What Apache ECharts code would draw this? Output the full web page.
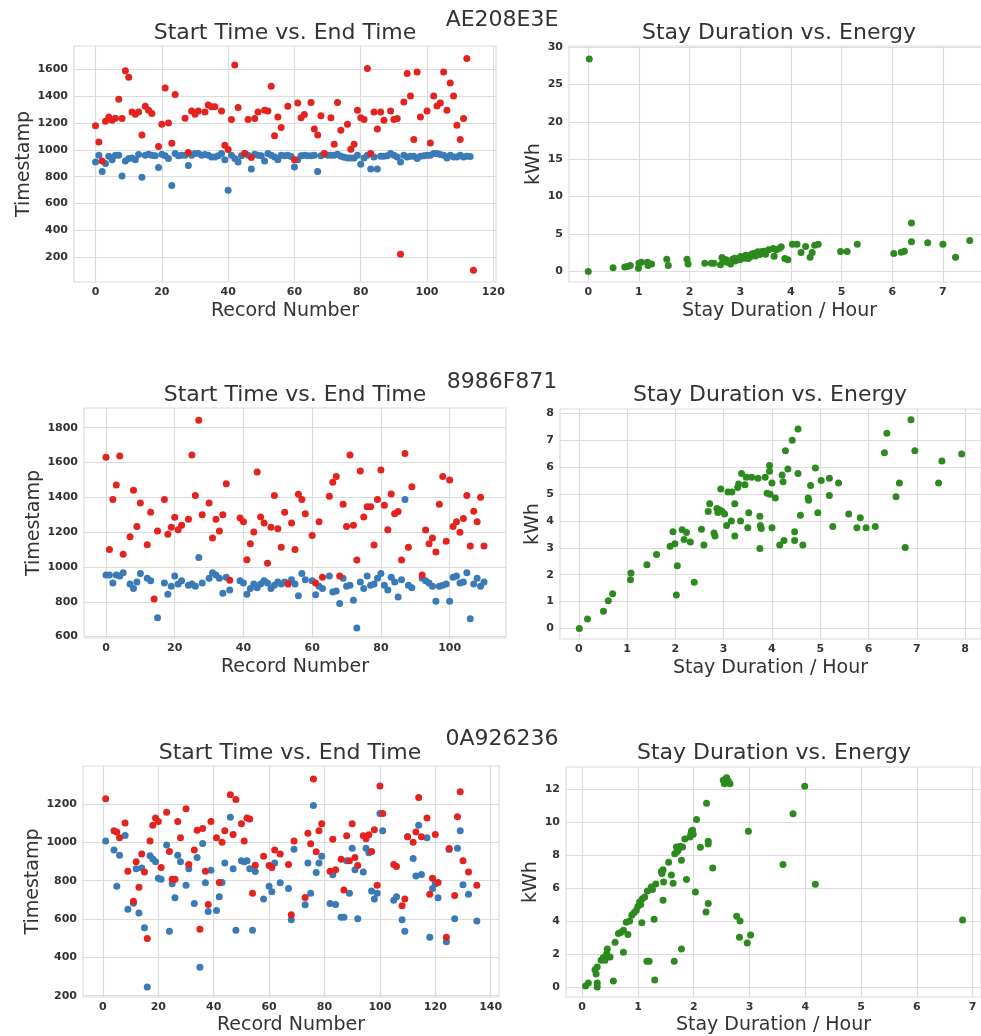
<!DOCTYPE html>
<html>
<head>
<meta charset="utf-8">
<script src="https://cdn.jsdelivr.net/npm/echarts@6/dist/echarts.min.js"></script>
<style>
  html, body { margin: 0; padding: 0; background: #ffffff; }
  #chart { width: 981px; height: 1036px; }
</style>
</head>
<body>
<div id="chart"></div>
<script>
// ---- Station names ----
const stations = ['AE208E3E', '8986F871', '0A926236'];

// ---- Station AE208E3E: start / end timestamps per record ----
const records1 = [];
for (let r = 0; r <= 114; r++) records1.push(r);
const start1 = [910,960,838,898,952,927,960,960,806,917,935,940,927,965,796,960,967,960,955,868,
  967,955,935,734,972,955,960,960,883,960,972,972,960,965,960,947,947,955,972,927,
  699,960,935,910,955,972,960,858,967,960,955,917,972,960,947,927,960,955,960,950,
  873,927,955,960,955,955,960,838,955,967,960,960,960,967,952,945,940,940,940,960,
  893,940,960,858,947,858,952,952,955,972,960,947,910,960,947,952,952,935,952,955,
  960,960,972,972,965,960,940,960,947,947,960,947,952,950,null];
const end1 = [1180,1059,917,1213,1245,1220,1236,1377,1233,1588,1540,1282,1265,1282,1111,1324,1295,1270,null,1024,
  1190,1461,1200,1049,1411,null,null,1235,980,1290,1265,1290,null,1282,1334,1320,1320,null,1290,1034,
  1002,1225,1632,1315,null,972,1225,942,1233,1282,null,1295,1290,1473,1104,1245,1166,null,1324,null,
  927,1349,1238,1263,null,1352,1156,1111,1253,972,null,1238,1042,1352,1146,null,1190,1004,1042,1295,
  1238,1225,1605,972,1282,1156,1282,1220,null,1290,1225,1233,222,1357,1568,1401,1076,1580,1245,null,
  1290,1051,1401,1327,1349,1580,1295,1498,1401,1183,1076,1233,1680,null,103];

// ---- Station 8986F871 ----
const records2 = [];
for (let r = 0; r <= 110; r++) records2.push(r);
const start2 = [954,954,908,954,948,967,null,902,876,914,962,null,935,921,null,709,null,908,843,889,
  948,902,921,null,895,902,889,1055,908,null,935,967,954,935,849,941,868,null,null,921,
  908,843,876,902,881,902,921,908,876,895,914,902,914,908,927,902,835,962,927,null,
  921,841,889,876,null,948,856,862,790,935,889,895,809,650,914,876,948,895,902,935,
  962,895,868,941,914,828,927,1387,895,881,null,null,935,921,908,889,803,889,895,902,
  803,941,948,908,914,967,703,902,935,889,914];
const end2 = [1630,1100,1387,1471,1637,1073,null,1174,1440,1233,1367,null,1128,1314,816,1207,null,1387,1188,1228,
  1285,1214,1239,null,1274,1643,1411,1842,1300,null,1367,1166,1274,1207,1300,1478,923,null,null,1281,
  1260,1042,1134,1201,1545,1287,1253,1021,1228,1411,1220,1113,1314,902,1253,1100,1417,1387,1306,null,
  1180,908,1260,941,null,1406,1486,1519,948,1360,1233,1643,1239,1040,1551,1287,1346,1346,1126,1387,
  1557,1354,1214,1419,1306,1318,1040,1651,1113,1460,null,null,954,1212,1134,1166,1086,1360,1519,1147,
  1500,1233,1260,1199,1279,1411,1120,1320,1260,1400,1120];

// ---- Station 0A926236 ----
const records3 = [1,4,5,6,8,9,11,12,13,14,15,16,17,18,19,20,21,23,24,25,
  26,27,28,30,31,33,34,35,36,37,38,39,41,42,43,44,46,47,48,50,
  51,52,53,54,55,58,60,61,62,64,67,68,69,73,74,75,76,77,78,79,
  82,83,84,86,87,88,89,90,91,92,94,95,96,97,98,99,100,101,105,106,
  108,109,110,112,113,114,115,117,118,119,120,121,124,125,127,128,129,130,132,135];
const start3 = [1007,960,771,933,1036,651,683,862,632,867,554,245,930,914,899,813,808,987,536,784,
  711,933,899,777,862,681,921,348,994,789,639,855,644,717,791,892,1132,862,542,904,
  899,904,862,542,848,705,771,742,892,789,759,596,965,674,892,735,1193,843,892,928,
  681,831,676,609,609,904,735,970,857,602,845,970,946,747,705,735,1151,1061,698,717,
  596,536,1029,916,825,1090,832,1024,505,759,784,711,481,963,602,970,1061,779,730,590];
const end3 = [1228,1061,1055,1024,1102,850,693,899,766,940,845,498,1008,1090,1127,1109,869,1158,953,808,
  808,1109,1024,1176,885,960,1064,547,1073,850,676,1109,1024,791,1001,1061,1249,1041,1224,1097,
  1007,1127,1122,735,881,928,879,869,960,940,885,622,1007,712,1048,993,1331,951,1061,1097,
  850,1017,857,912,752,1035,904,1097,921,879,1035,1019,1040,953,1066,777,1294,1151,885,874,
  669,705,1029,1001,1055,1235,1029,1127,730,813,1041,791,505,968,723,1134,1264,904,845,777];

// ---- Stay duration (hours) vs. energy (kWh) ----
const duration1 = [0.02,0,0.49,0.72,0.77,0.83,0.99,1.0,1.05,1.17,1.18,1.25,1.55,1.58,1.95,1.97,2.3,2.43,2.48,2.61,
  2.64,2.66,2.72,2.76,2.81,2.85,2.89,2.95,2.99,3.01,3.04,3.11,3.16,3.19,3.24,3.29,3.35,3.39,3.43,3.47,
  3.56,3.65,3.67,3.71,3.77,3.81,3.88,3.94,4.03,4.12,4.2,4.29,4.38,4.42,4.47,4.54,4.98,5.11,5.31,6.03,
  6.18,6.24,6.38,6.38,6.7,7.0,7.25,7.53,2.7,2.78,2.9,3.08,3.2,3.3,3.5,2.68,2.92];
const energy1 = [28.4,0,0.49,0.58,0.67,0.8,0.44,1.1,1.24,1.24,0.8,0.98,1.64,0.8,1.64,0.98,1.1,1.1,1.1,0.89,
  1.87,1.42,1.56,1.24,0.98,1.64,1.78,1.69,1.56,2.0,1.87,2.18,1.73,2.18,2.36,2.44,2.62,2.27,2.67,2.71,
  2.89,3.07,2.04,2.89,3.07,3.29,1.73,1.56,3.64,3.64,2.53,3.33,1.91,2.53,3.51,3.64,2.67,2.67,3.64,2.4,
  2.58,2.71,6.49,3.96,3.82,3.64,1.91,4.13,1.3,1.15,1.4,1.75,1.95,2.05,2.3,1.6,1.5];

const duration2 = [0.01,0.18,0.51,0.61,0.70,1.08,1.07,1.41,1.61,1.89,1.95,1.99,2.02,2.04,2.14,2.18,2.23,2.31,2.39,2.54,
  2.59,2.71,2.68,2.80,2.82,2.86,2.88,2.92,2.94,2.97,3.02,3.06,3.09,3.17,3.16,3.23,3.23,3.29,3.31,3.35,
  3.37,3.44,3.47,3.5,3.52,3.58,3.71,3.75,3.75,3.76,3.78,3.86,3.90,3.95,3.95,3.96,4.0,4.0,4.07,4.16,
  4.21,4.23,4.25,4.28,4.33,4.42,4.47,4.47,4.54,4.54,4.59,4.64,4.75,4.76,4.8,4.9,4.95,5.02,5.19,5.19,
  5.26,5.38,5.59,5.76,5.83,5.95,6.14,6.33,6.38,6.57,6.64,6.76,6.88,6.96,7.45,7.52,7.93];
const energy2 = [0,0.35,0.64,1.03,1.29,2.06,1.81,2.37,2.75,3.06,3.6,3.15,1.25,2.33,3.67,3.31,3.57,3.22,1.72,3.69,
  3.1,4.64,4.35,3.55,3.44,4.46,4.31,4.41,5.19,4.35,4.26,3.83,5.07,5.07,4.0,4.64,3.44,5.24,5.37,4.0,
  5.76,5.34,5.62,3.75,4.3,5.62,5.59,4.17,2.97,3.83,3.72,5.62,5.03,6.06,5.85,4.99,5.41,3.75,4.85,3.1,
  5.71,5.46,3.27,6.61,5.93,7.0,3.6,3.27,7.42,5.76,4.21,3.1,4.85,4.77,5.32,5.97,4.3,5.5,5.59,4.94,
  3.79,5.41,4.26,3.75,4.12,3.75,3.79,6.53,7.26,4.9,5.41,3.01,7.76,6.61,5.41,6.23,6.49];

const duration3 = [0.06,0.11,0.23,0.25,0.27,0.27,0.27,0.34,0.38,0.41,0.45,0.44,0.50,0.56,0.59,0.65,0.69,0.74,0.74,0.79,
  0.82,0.85,0.89,0.97,1.0,1.03,1.07,1.08,1.12,1.16,1.17,1.2,1.24,1.26,1.29,1.3,1.32,1.43,1.45,1.45,
  1.46,1.55,1.6,1.63,1.65,1.66,1.69,1.72,1.76,1.78,1.78,1.80,1.84,1.87,1.93,1.96,1.99,1.98,2.03,2.05,
  2.12,2.22,2.23,2.26,2.26,2.26,2.34,2.53,2.55,2.59,2.62,2.65,2.77,2.82,2.83,2.96,2.98,3.02,3.6,3.78,
  3.99,4.18,6.82,0.93,1.05,1.7,1.95,2.57,1.42];
const energy3 = [0.06,0.24,1.05,0.79,1.21,0.24,0,1.62,1.78,1.62,2.31,2.02,1.82,0.36,2.71,3.24,3.3,3.44,2.1,3.93,
  3.18,4.0,4.35,4.65,4.9,5.16,3.89,5.36,5.46,1.56,5.83,1.56,6.07,5.91,4.11,0.42,6.25,6.88,7.12,5.26,
  6.37,7.57,6.8,6.29,1.56,8.09,8.5,8.3,8.54,7.69,2.31,8.5,8.98,6.52,9.1,9.47,9.27,9.51,5.77,10.16,
  8.48,4.55,11.15,5.06,8.84,8.68,7.22,12.55,12.34,12.69,12.5,12.34,4.29,3.02,4.0,2.67,9.45,3.16,7.43,10.52,
  12.18,6.23,4.07,4.5,5.0,8.2,9.3,12.6,7.0];

// ---- Tick labels ----
const recordTicks1 = [0, 20, 40, 60, 80, 100, 120];
const timeTicks1 = [200, 400, 600, 800, 1000, 1200, 1400, 1600];
const hourTicks1 = [0, 1, 2, 3, 4, 5, 6, 7];
const kwhTicks1 = [0, 5, 10, 15, 20, 25, 30];
const recordTicks2 = [0, 20, 40, 60, 80, 100];
const timeTicks2 = [600, 800, 1000, 1200, 1400, 1600, 1800];
const hourTicks2 = [0, 1, 2, 3, 4, 5, 6, 7, 8];
const kwhTicks2 = [0, 1, 2, 3, 4, 5, 6, 7, 8];
const recordTicks3 = [0, 20, 40, 60, 80, 100, 120, 140];
const timeTicks3 = [200, 400, 600, 800, 1000, 1200];
const hourTicks3 = [0, 1, 2, 3, 4, 5, 6, 7];
const kwhTicks3 = [0, 2, 4, 6, 8, 10, 12];

// ---- Styling ----
const FONT = 'DejaVu Sans';
const TEXT = '#333333';
const GRID_LINE = '#dcdcdc';
const RED = '#e4231f';
const BLUE = '#3a7bb7';
const GREEN = '#2d8a1f';

function pairs(xs, ys) {
  const out = [];
  xs.forEach((x, i) => { if (ys[i] != null) out.push([x, ys[i]]); });
  return out;
}

// Panel geometry: plot rectangle, axis ranges, ticks and axis-name gaps
const panels = [
  { left: 74, top: 46, width: 422, height: 236, x: [-6.5, 120.8], y: [16, 1773],
    xt: recordTicks1, yt: timeTicks1, xn: 'Record Number', yn: 'Timestamp', xg: 20, yg: 39 },
  { left: 569, top: 46, width: 421, height: 236, x: [-0.38, 7.93], y: [-1.41, 30.13],
    xt: hourTicks1, yt: kwhTicks1, xn: 'Stay Duration / Hour', yn: 'kWh', xg: 20, yg: 19 },
  { left: 84, top: 408, width: 422, height: 230, x: [-6.4, 116.4], y: [592, 1913],
    xt: recordTicks2, yt: timeTicks2, xn: 'Record Number', yn: 'Timestamp', xg: 20, yg: 37 },
  { left: 560, top: 409, width: 421, height: 230, x: [-0.39, 8.33], y: [-0.39, 8.16],
    xt: hourTicks2, yt: kwhTicks2, xn: 'Stay Duration / Hour', yn: 'kWh', xg: 20, yg: 13 },
  { left: 83, top: 766, width: 416, height: 231, x: [-7.2, 143], y: [193, 1399],
    xt: recordTicks3, yt: timeTicks3, xn: 'Record Number', yn: 'Timestamp', xg: 19, yg: 37 },
  { left: 566, top: 767, width: 415, height: 230, x: [-0.29, 7.15], y: [-0.61, 13.35],
    xt: hourTicks3, yt: kwhTicks3, xn: 'Stay Duration / Hour', yn: 'kWh', xg: 19, yg: 20 }
];

const grid = [], xAxis = [], yAxis = [];
panels.forEach((p, i) => {
  grid.push({ left: p.left, top: p.top, width: p.width, height: p.height,
    show: true, borderColor: GRID_LINE, borderWidth: 1.2, backgroundColor: '#ffffff',
    containLabel: false, outerBoundsMode: 'none' });
  const labelStyle = { color: TEXT, fontFamily: FONT, fontWeight: 'bold', fontSize: 11,
    formatter: (v) => String(v) };
  const nameStyle = { color: TEXT, fontFamily: FONT, fontSize: 19 };
  xAxis.push({ type: 'value', gridIndex: i, min: p.x[0], max: p.x[1],
    name: p.xn, nameLocation: 'middle', nameGap: p.xg, nameTextStyle: nameStyle,
    axisLine: { show: false },
    axisTick: { show: false, customValues: p.xt },
    axisLabel: Object.assign({ margin: 5, customValues: p.xt }, labelStyle),
    splitLine: { show: true, lineStyle: { color: GRID_LINE, width: 1.2 } } });
  yAxis.push({ type: 'value', gridIndex: i, min: p.y[0], max: p.y[1],
    name: p.yn, nameLocation: 'middle', nameGap: p.yg, nameTextStyle: nameStyle,
    axisLine: { show: false },
    axisTick: { show: false, customValues: p.yt },
    axisLabel: Object.assign({ margin: 6, customValues: p.yt }, labelStyle),
    splitLine: { show: true, lineStyle: { color: GRID_LINE, width: 1.2 } } });
});

function scatter(idx, data, color) {
  return { type: 'scatter', xAxisIndex: idx, yAxisIndex: idx, data: data,
    symbolSize: 7, itemStyle: { color: color, opacity: 1 }, silent: true, clip: true };
}

const series = [
  scatter(0, pairs(records1, start1), BLUE),
  scatter(0, pairs(records1, end1), RED),
  scatter(1, pairs(duration1, energy1), GREEN),
  scatter(2, pairs(records2, start2), BLUE),
  scatter(2, pairs(records2, end2), RED),
  scatter(3, pairs(duration2, energy2), GREEN),
  scatter(4, pairs(records3, start3), BLUE),
  scatter(4, pairs(records3, end3), RED),
  scatter(5, pairs(duration3, energy3), GREEN)
];

// Panel titles and station headers
function label(text, x, y, size) {
  return { type: 'text', x: x, y: y, silent: true,
    style: { text: text, fill: TEXT, font: size + 'px "' + FONT + '"',
      align: 'center', verticalAlign: 'middle' } };
}
const graphic = [
  label('Start Time vs. End Time', 285, 33, 22),
  label('Stay Duration vs. Energy', 779, 33, 22),
  label(stations[0], 502, 20, 22),
  label('Start Time vs. End Time', 295, 395, 22),
  label('Stay Duration vs. Energy', 770, 395, 22),
  label(stations[1], 502, 382, 22),
  label('Start Time vs. End Time', 290, 753, 22),
  label('Stay Duration vs. Energy', 774, 753, 22),
  label(stations[2], 502, 739, 22)
];

const chart = echarts.init(document.getElementById('chart'), null, { renderer: 'canvas' });
chart.setOption({
  animation: false,
  backgroundColor: '#ffffff',
  grid: grid,
  xAxis: xAxis,
  yAxis: yAxis,
  series: series,
  graphic: graphic
});
</script>
</body>
</html>
